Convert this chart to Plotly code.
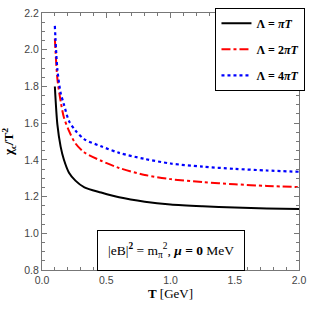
import plotly.graph_objects as go

# Temperature grid (GeV)
T = [0.1, 0.12, 0.145, 0.17, 0.21, 0.26, 0.33, 0.46, 0.6, 0.8, 1.0, 1.25, 1.5, 1.75, 2.0]

# chi_c / T^2 for three cutoffs
chi_pi = [1.80, 1.59, 1.472, 1.402, 1.33, 1.287, 1.25, 1.222, 1.196, 1.172, 1.157, 1.147, 1.14, 1.135, 1.132]
chi_2pi = [2.06, 1.84, 1.72, 1.632, 1.558, 1.49, 1.44, 1.395, 1.356, 1.318, 1.295, 1.279, 1.267, 1.258, 1.252]
chi_4pi = [2.13, 1.89, 1.765, 1.703, 1.612, 1.56, 1.512, 1.474, 1.438, 1.405, 1.38, 1.363, 1.351, 1.342, 1.335]

names = ["<b>Λ = <i>πT</i></b>", "<b>Λ = 2<i>πT</i></b>", "<b>Λ = 4<i>πT</i></b>"]

fig = go.Figure()
fig.add_trace(go.Scatter(x=T, y=chi_pi, mode="lines", name=names[0], legendgroup="a",
                         line=dict(color="black", width=2, shape="spline", smoothing=0.8)))
fig.add_trace(go.Scatter(x=T, y=chi_2pi, mode="lines", name=names[1], legendgroup="b",
                         line=dict(color="#ff0000", width=2, dash="dashdot", shape="spline", smoothing=0.8)))
fig.add_trace(go.Scatter(x=T, y=chi_4pi, mode="lines", name=names[2], legendgroup="c",
                         line=dict(color="#0000ff", width=2.2, dash="dot", shape="spline", smoothing=0.8)))

tickfont = dict(family="Liberation Sans, Arial, sans-serif", size=10.5, color="#444")
axcommon = dict(showline=True, linecolor="#777", linewidth=1, mirror="allticks",
                ticks="inside", ticklen=5, tickcolor="#777", showgrid=False, zeroline=False,
                tickfont=tickfont)

fig.update_layout(
    width=313, height=309,
    margin=dict(l=39, r=8, t=7, b=39),
    plot_bgcolor="white", paper_bgcolor="white",
    xaxis=dict(range=[0, 2], dtick=0.5, tick0=0, tickformat=".1f",
               minor=dict(dtick=0.1, ticks="inside", ticklen=3, tickcolor="#777"),
               title=dict(text="<b>T</b> [GeV]", standoff=0,
                          font=dict(family="Liberation Serif, Times New Roman, serif", size=13, color="black")),
               **axcommon),
    yaxis=dict(range=[0.8, 2.2], dtick=0.2, tick0=0.8, tickformat=".1f",
               minor=dict(dtick=0.05, ticks="inside", ticklen=3, tickcolor="#777"),
               title=dict(text="<b>χ<sub>c</sub>/T<sup>2</sup></b>", standoff=8,
                          font=dict(family="Liberation Serif, Times New Roman, serif", size=13, color="black")),
               **axcommon),
    legend=dict(x=0.675, y=1.02, xanchor="left", yanchor="top",
                bgcolor="white", bordercolor="black", borderwidth=1,
                font=dict(family="Liberation Serif, Times New Roman, serif", size=12, color="black"),
                itemwidth=30, tracegroupgap=7),
    annotations=[dict(
        xref="x", yref="y", x=1.0, y=0.907, xanchor="center", yanchor="middle",
        text="|eB|<sup><b>2</b></sup> = m<sub>π</sub><sup>2</sup>, <b><i>μ</i> = 0</b> MeV",
        showarrow=False, bordercolor="black", borderwidth=1, bgcolor="white",
        borderpad=10,
        font=dict(family="Liberation Serif, Times New Roman, serif", size=13.5, color="black"))],
)

fig.write_html("out.html", config={"displayModeBar": False},
               post_script="document.body.style.margin='0';document.body.style.padding='0';")
